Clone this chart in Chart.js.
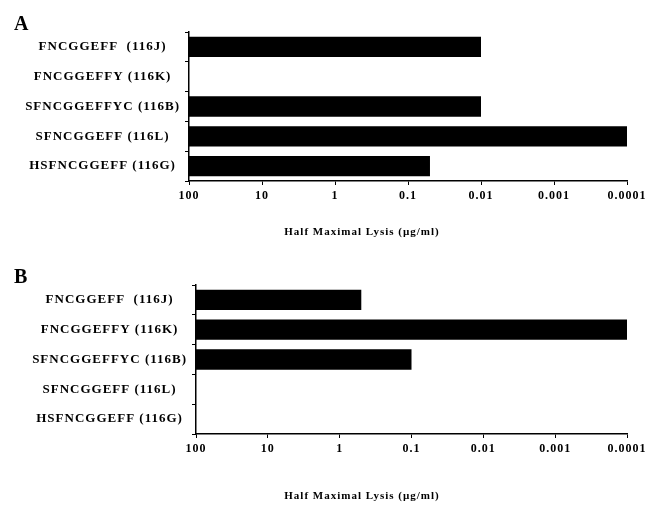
<!DOCTYPE html>
<html>
<head>
<meta charset="utf-8">
<script src="https://cdn.jsdelivr.net/npm/chart.js@4"></script>
<style>
  body { margin: 0; background: #fff; }
  .panel { position: absolute; left: 0; width: 649px; height: 253px; }
</style>
</head>
<body>
<div class="panel" style="top:0"><canvas id="chartA" width="649" height="253"></canvas></div>
<div class="panel" style="top:253px"><canvas id="chartB" width="649" height="253"></canvas></div>
<script>
const peptides = ['FNCGGEFF  (116J)', 'FNCGGEFFY (116K)', 'SFNCGGEFFYC (116B)', 'SFNCGGEFF (116L)', 'HSFNCGGEFF (116G)'];
// half maximal lysis, µg/ml (null = no lysis)
const lysisA = [0.01, null, 0.01, 0.0001, 0.05];
const lysisB = [0.5, 0.0001, 0.1, null, null];
const startConc = 100;
const tickValues = [100, 10, 1, 0.1, 0.01, 0.001, 0.0001];
const tickLabels = ['100', '10', '1', '0.1', '0.01', '0.001', '0.0001'];
const axisTitle = 'Half Maximal Lysis (\u00b5g/ml)';

const serif = '"Liberation Serif", "Times New Roman", serif';

// spaced-out lettering, reapplied since resizing the canvas resets the context
const spacing = {
  id: 'spacing',
  beforeLayout(chart) { chart.ctx.letterSpacing = '1px'; },
  beforeDraw(chart) { chart.ctx.letterSpacing = '1px'; }
};

// panel letter in the corner and the axis caption under the ticks
const captions = {
  id: 'captions',
  afterDraw(chart, args, opts) {
    const ctx = chart.ctx;
    ctx.save();
    ctx.fillStyle = '#000';
    ctx.letterSpacing = '0px';
    ctx.font = 'bold 20px ' + serif;
    ctx.textAlign = 'left';
    ctx.textBaseline = 'alphabetic';
    ctx.fillText(opts.letter, 14, 30);
    ctx.letterSpacing = '1px';
    ctx.font = 'bold 11px ' + serif;
    ctx.textAlign = 'center';
    ctx.textBaseline = 'middle';
    ctx.fillText(axisTitle, 362, opts.titleY);
    ctx.restore();
  }
};

function makeChart(id, values, letter, plotLeft, titleY) {
  new Chart(document.getElementById(id), {
    type: 'bar',
    data: {
      labels: peptides,
      datasets: [{
        data: values.map(v => v === null ? null : [startConc, v]),
        backgroundColor: '#000',
        borderWidth: 0,
        categoryPercentage: 1,
        barPercentage: 0.68
      }]
    },
    plugins: [spacing, captions],
    options: {
      indexAxis: 'y',
      responsive: false,
      animation: false,
      layout: { padding: { left: 0, right: 22, top: 32, bottom: 0 } },
      plugins: {
        legend: { display: false },
        tooltip: { enabled: false },
        captions: { letter: letter, titleY: titleY }
      },
      scales: {
        x: {
          type: 'logarithmic',
          reverse: true,
          min: 0.0001,
          max: 100,
          afterBuildTicks(scale) { scale.ticks = tickValues.map(v => ({ value: v })); },
          ticks: {
            color: '#000',
            font: { family: serif, size: 12, weight: 'bold' },
            padding: 4,
            maxRotation: 0,
            autoSkip: false,
            callback: (v, i) => tickLabels[i]
          },
          grid: { drawOnChartArea: false, color: '#000', tickLength: 4, lineWidth: 1 },
          border: { color: '#000', width: 1.5 },
          afterFit(scale) {
            scale.height = 253 - 181;
            scale.paddingRight = 0;
          }
        },
        y: {
          grid: { offset: true, drawOnChartArea: false, color: '#000', tickLength: 4, lineWidth: 1 },
          border: { color: '#000', width: 1.5 },
          ticks: {
            color: '#000',
            crossAlign: 'center',
            padding: 5,
            font: { family: serif, size: 13, weight: 'bold' }
          },
          afterFit(scale) { scale.width = plotLeft; }
        }
      }
    }
  });
}

makeChart('chartA', lysisA, 'A', 189, 232);
makeChart('chartB', lysisB, 'B', 196, 243);
</script>
</body>
</html>
